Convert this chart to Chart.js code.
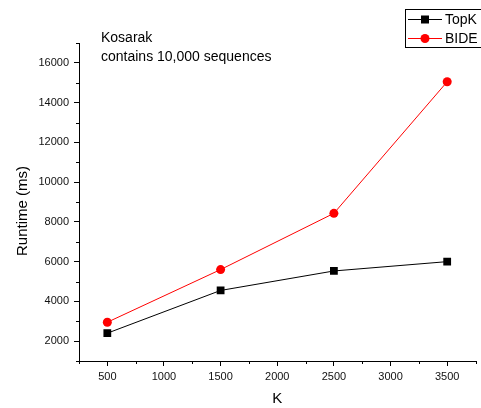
<!DOCTYPE html>
<html>
<head>
<meta charset="utf-8">
<script src="https://cdn.jsdelivr.net/npm/chart.js@4/dist/chart.umd.min.js"></script>
<style>
    html, body { margin: 0; padding: 0; background: #fff; }
    #wrap { width: 481px; height: 408px; }
</style>
</head>
<body>
<div id="wrap"><canvas id="runtimeChart"></canvas></div>
<script>
var kValues = [500, 1500, 2500, 3500];
var topkRuntime = [2400, 4550, 5530, 6000];
var bideRuntime = [2950, 5600, 8430, 15050];

var xMajor = [500, 1000, 1500, 2000, 2500, 3000, 3500];
var xMinor = [250, 750, 1250, 1750, 2250, 2750, 3250, 3750];
var yMajor = [2000, 4000, 6000, 8000, 10000, 12000, 14000, 16000];
var yMinor = [1000, 3000, 5000, 7000, 9000, 11000, 13000, 15000, 17000];

var FONT = '"Liberation Sans", Arial, sans-serif';

function toPoints(ys) {
    return kValues.map((k, i) => ({ x: k, y: ys[i] }));
}

// small ticks, note text, axis titles and the boxed legend
var extras = {
    id: 'extras',
    afterDraw(chart) {
        var ctx = chart.ctx;
        var area = chart.chartArea;
        var xs = chart.scales.x;
        var ys = chart.scales.y;
        ctx.save();
        ctx.strokeStyle = '#000';
        ctx.lineWidth = 1;
        ctx.beginPath();
        xMinor.forEach(v => {
            var px = Math.round(xs.getPixelForValue(v)) + 0.5;
            ctx.moveTo(px, area.bottom);
            ctx.lineTo(px, area.bottom + 3);
        });
        yMinor.forEach(v => {
            var py = Math.round(ys.getPixelForValue(v)) + 0.5;
            ctx.moveTo(area.left, py);
            ctx.lineTo(area.left - 3, py);
        });
        ctx.stroke();

        ctx.fillStyle = '#000';
        ctx.font = '14px ' + FONT;
        ctx.textBaseline = 'middle';
        ctx.textAlign = 'left';
        ctx.fillText('Kosarak', 101, 38);
        ctx.fillText('contains 10,000 sequences', 101, 57);

        // axis titles
        ctx.font = '15px ' + FONT;
        ctx.textAlign = 'center';
        ctx.fillText('K', (area.left + area.right) / 2, 399);
        ctx.save();
        ctx.translate(23, 211);
        ctx.rotate(-Math.PI / 2);
        ctx.fillText('Runtime (ms)', 0, 0);
        ctx.restore();

        // legend
        ctx.strokeStyle = '#000';
        ctx.strokeRect(405.5, 9.5, 80, 38);
        ctx.font = '14px ' + FONT;
        ctx.textAlign = 'left';
        var rows = [
            { label: 'TopK', color: '#000', y: 19, shape: 'rect' },
            { label: 'BIDE', color: '#ff0000', y: 38, shape: 'circle' }
        ];
        rows.forEach(r => {
            ctx.strokeStyle = r.color;
            ctx.fillStyle = r.color;
            ctx.beginPath();
            ctx.moveTo(408, r.y + 0.5);
            ctx.lineTo(442, r.y + 0.5);
            ctx.stroke();
            if (r.shape === 'rect') {
                ctx.fillRect(421, r.y - 3.5, 8, 8);
            } else {
                ctx.beginPath();
                ctx.arc(425, r.y + 0.5, 4.5, 0, Math.PI * 2);
                ctx.fill();
            }
            ctx.fillStyle = '#000';
            ctx.fillText(r.label, 445, r.y + 1);
        });
        ctx.restore();
    }
};

var ctx = document.getElementById('runtimeChart').getContext('2d');
var runtimeChart = new Chart(ctx, {
    type: 'scatter',
    data: {
        datasets: [{
            label: 'TopK',
            data: toPoints(topkRuntime),
            showLine: true,
            borderColor: '#000',
            backgroundColor: '#000',
            borderWidth: 1,
            pointStyle: 'rect',
            pointRadius: 5.5,
            pointHoverRadius: 5.5,
            pointBorderWidth: 0
        }, {
            label: 'BIDE',
            data: toPoints(bideRuntime),
            showLine: true,
            borderColor: '#ff0000',
            backgroundColor: '#ff0000',
            borderWidth: 1,
            pointStyle: 'circle',
            pointRadius: 4.5,
            pointHoverRadius: 4.5,
            pointBorderWidth: 0
        }]
    },
    options: {
        responsive: true,
        maintainAspectRatio: false,
        animation: false,
        events: [],
        layout: { padding: { top: 43, right: 4, left: 0, bottom: 0 } },
        plugins: {
            legend: { display: false },
            tooltip: { enabled: false }
        },
        scales: {
            x: {
                type: 'linear',
                min: 250,
                max: 3750,
                afterBuildTicks: (scale) => { scale.ticks = xMajor.map(v => ({ value: v })); },
                afterFit: (scale) => { scale.height = 47; },
                grid: { drawOnChartArea: false, tickLength: 5, color: '#000' },
                border: { color: '#000', width: 1 },
                ticks: {
                    color: '#111',
                    padding: 4,
                    maxRotation: 0,
                    callback: (v) => String(v),
                    font: { family: FONT, size: 11 }
                }
            },
            y: {
                type: 'linear',
                min: 1000,
                max: 17000,
                afterBuildTicks: (scale) => { scale.ticks = yMajor.map(v => ({ value: v })); },
                afterFit: (scale) => { scale.width = 79; },
                grid: { drawOnChartArea: false, tickLength: 5, color: '#000' },
                border: { color: '#000', width: 1 },
                ticks: {
                    color: '#111',
                    padding: 5,
                    callback: (v) => String(v),
                    font: { family: FONT, size: 11 }
                }
            }
        }
    },
    plugins: [extras]
});
</script>
</body>
</html>
